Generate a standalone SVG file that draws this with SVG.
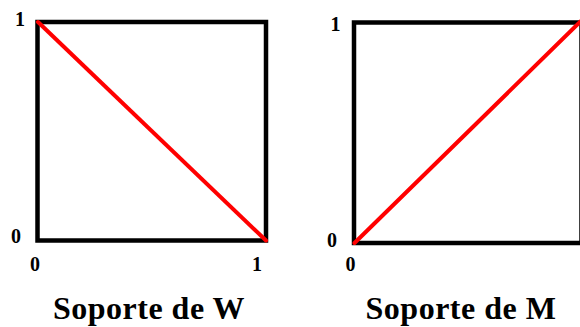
<svg xmlns="http://www.w3.org/2000/svg" width="580" height="327" viewBox="0 0 580 327">
<style>
.box{fill:none;stroke:#000;stroke-width:4.5}
.diag{stroke:#ff0000;stroke-width:4;stroke-linecap:round}
.tick{font-family:"Liberation Serif","Times New Roman",serif;font-weight:bold;font-size:20px;fill:#000;text-anchor:middle}
.title{font-family:"Liberation Serif","Times New Roman",serif;font-weight:bold;font-size:32px;letter-spacing:0.5px;fill:#000;text-anchor:middle}
</style>
<rect width="580" height="327" fill="#fff"/>
<g id="soporte-w">
<rect class="box" x="37.5" y="22" width="228.5" height="218.5"/>
<line class="diag" x1="38" y1="22" x2="266" y2="240.5"/>
<text class="tick" x="20" y="26">1</text>
<text class="tick" x="16" y="243">0</text>
<text class="tick" x="35" y="271">0</text>
<text class="tick" x="257" y="271">1</text>
<text class="title" x="149" y="319">Soporte de W</text>
</g>
<g id="soporte-m">
<rect class="box" x="354" y="22.5" width="227.5" height="220.5"/>
<line class="diag" x1="354.5" y1="243" x2="581" y2="21"/>
<text class="tick" x="335.5" y="31">1</text>
<text class="tick" x="332" y="246.5">0</text>
<text class="tick" x="350.5" y="270.5">0</text>
<text class="title" x="461" y="319">Soporte de M</text>
</g>
<g id="connectors"/>
</svg>
